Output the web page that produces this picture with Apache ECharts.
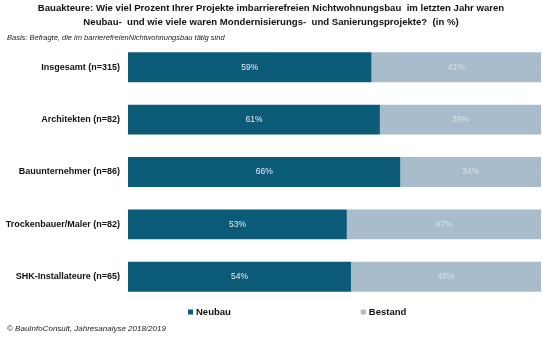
<!DOCTYPE html>
<html><head><meta charset="utf-8">
<script src="https://cdn.jsdelivr.net/npm/echarts@6/dist/echarts.min.js"></script>
<style>html,body{margin:0;padding:0;background:#fff}#c{width:542px;height:340px}</style>
</head><body><div id="c"></div>
<script>
const categories = ["Insgesamt (n=315)", "Architekten (n=82)", "Bauunternehmer (n=86)", "Trockenbauer/Maler (n=82)", "SHK-Installateure (n=65)"];
const neubau = [59, 61, 66, 53, 54];
const bestand = [41, 39, 34, 47, 46];
const seriesNames = ["Neubau", "Bestand"];

const chart = echarts.init(document.getElementById('c'));
const ff = '"Liberation Sans", Arial, sans-serif';
chart.setOption({
  animation: false,
  textStyle: { fontFamily: ff },
  title: [
    { text: 'Bauakteure: Wie viel Prozent Ihrer Projekte imbarrierefreien Nichtwohnungsbau  im letzten Jahr waren\nNeubau-  und wie viele waren Mondernisierungs-  und Sanierungsprojekte?  (in %)',
      left: 'center', top: -4,
      textStyle: { fontSize: 9.6, fontWeight: 'bold', color: '#111', lineHeight: 14, fontFamily: ff, align: 'center' } },
    { text: 'Basis: Befragte, die im barrierefreienNichtwohnungsbau tätig sind', left: 2, top: 29,
      textStyle: { fontSize: 7.5, fontStyle: 'italic', fontWeight: 'normal', color: '#222', fontFamily: ff } },
    { text: '© BauInfoConsult, Jahresanalyse 2018/2019', left: 2, top: 320,
      textStyle: { fontSize: 8, fontStyle: 'italic', fontWeight: 'normal', color: '#222', fontFamily: ff } }
  ],
  legend: {
    data: seriesNames, left: 183, top: 302, itemWidth: 5, itemHeight: 5, itemGap: 130,
    icon: 'rect',
    textStyle: { fontSize: 9.5, fontWeight: 'bold', color: '#111', fontFamily: ff, padding: [0,0,0,-2] }
  },
  grid: { left: 128, right: 1, top: 41, bottom: 37, containLabel: false, outerBoundsMode: 'none' },
  xAxis: { type: 'value', min: 0, max: 100, show: false },
  yAxis: {
    type: 'category', data: categories, inverse: true,
    axisLine: { show: false }, axisTick: { show: false },
    axisLabel: { fontSize: 9, fontWeight: 'bold', color: '#111', margin: 8, fontFamily: ff }
  },
  series: [
    { name: 'Neubau', type: 'bar', stack: 'a', data: neubau, barCategoryGap: '43%',
      itemStyle: { color: '#0b5a78' },
      label: { show: true, position: 'inside', formatter: '{c}%', color: '#e8eef2', fontSize: 8.5, fontFamily: ff } },
    { name: 'Bestand', type: 'bar', stack: 'a', data: bestand,
      itemStyle: { color: '#a8bccb' },
      label: { show: true, position: 'inside', formatter: '{c}%', color: '#d8e0e6', fontSize: 8.5, fontFamily: ff } }
  ]
});
</script></body></html>
